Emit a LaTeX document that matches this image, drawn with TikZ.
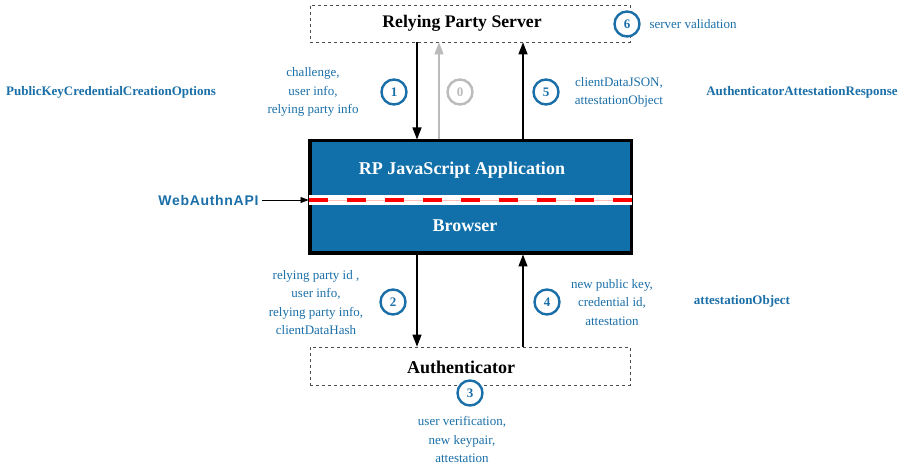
\documentclass[tikz,border=0pt]{standalone}
\usepackage{fontspec}
\setmainfont{Liberation Serif}
\newfontfamily\apifont[LetterSpace=5]{Liberation Sans}
\usetikzlibrary{arrows.meta}

\definecolor{labelblue}{HTML}{1A6FA8}
\definecolor{appblue}{HTML}{1170AA}
\definecolor{zerogray}{HTML}{BBBBBB}

\tikzset{
  dashbox/.style={draw=black!70, dashed, line width=0.7pt, inner sep=0pt},
  title/.style={font=\fontsize{17.7}{20}\selectfont\bfseries},
  apptitle/.style={font=\fontsize{18}{20}\selectfont\bfseries, text=white},
  info/.style={align=center, text=labelblue, font=\fontsize{13}{18.5}\selectfont},
  typename/.style={text=labelblue, font=\fontsize{13}{16}\selectfont\bfseries},
  stepnum/.style={circle, draw=labelblue, fill=white, line width=2.4pt,
    minimum size=25pt, inner sep=0pt, text=labelblue,
    font=\fontsize{13}{15}\selectfont\bfseries},
  flow/.style={line width=1.3pt, -{Triangle[length=12pt, width=9pt]}},
}

\begin{document}
\begin{tikzpicture}[x=1pt, y=-1pt]
\useasboundingbox (0,0) rectangle (903,465);

% boxes
\node[dashbox, minimum width=320pt, minimum height=37pt] (rps) at (470,23.5) {};
\node[title] (rpstitle) at (462,23) {Relying Party Server};
\node[dashbox, minimum width=320pt, minimum height=38pt] (auth) at (470,366) {};
\node[title, font=\fontsize{18}{20}\selectfont\bfseries] (authtitle) at (461,367) {Authenticator};

\node[draw=black, fill=appblue, line width=3pt, minimum width=321pt,
  minimum height=112pt, inner sep=0pt] (app) at (470.5,197) {};
\node[apptitle] (rpapp) at (462,170) {RP JavaScript Application};
\node[apptitle] (browser) at (465,226) {Browser};

% WebAuthn API stripe
\coordinate (stripetop) at (0,195);
\coordinate (stripebot) at (0,205);
\coordinate (stripemid) at (0,200);
\fill[white] (app.west |- stripetop) rectangle (app.east |- stripebot);
\draw[red!25, line width=0.5pt] (app.west |- stripemid) -- (app.east |- stripemid);
\draw[red, line width=4.5pt, dash pattern=on 19pt off 19pt]
  (app.west |- stripemid) -- (app.east |- stripemid);
\draw[line width=1.5pt, black] (app.north west) rectangle (app.south east);

\node[text=labelblue, font=\apifont\fontsize{14}{16}\selectfont\bfseries,
  anchor=east] (api) at (262,200) {WebAuthnAPI};
\draw[line width=0.8pt, -{Triangle[length=8pt, width=6pt]}]
  (api.east) -- (app.west |- api.east);

% arrows
\coordinate (xdown) at (417,0);
\coordinate (xzero) at (439,0);
\coordinate (xup) at (523,0);
\draw[flow] (rps.south -| xdown) -- (app.north -| xdown);
\draw[flow, zerogray] (app.north -| xzero) -- (rps.south -| xzero);
\draw[flow] (app.north -| xup) -- (rps.south -| xup);
\draw[flow] (app.south -| xdown) -- (auth.north -| xdown);
\draw[flow] (auth.north -| xup) -- (app.south -| xup);

% steps
\node[stepnum, draw=zerogray, text=zerogray] (s0) at (460,92) {0};
\node[stepnum] (s1) at (394,92) {1};
\node[stepnum] (s5) at (546,92) {5};
\node[stepnum] (s6) at (627,24) {6};
\node[stepnum] (s2) at (393,302) {2};
\node[stepnum] (s4) at (547,302) {4};
\node[stepnum] (s3) at (470,393) {3};

% labels
\node[info] (opts) at (313,92) {challenge,\\user info,\\relying party info};
\node[info] (resp) at (619,92.5) {clientDataJSON,\\attestationObject};
\node[info, anchor=west] (valid) at (646,24) {server validation};
\node[info] (params) at (316,302.5) {relying party id ,\\user info,\\relying party info,\\clientDataHash};
\node[info] (cred) at (612,302.5) {new public key,\\credential id,\\attestation};
\node[info] (keygen) at (462,439.5) {user verification,\\new keypair,\\attestation};

\node[typename] (pkcco) at (111,92) {PublicKeyCredentialCreationOptions};
\node[typename] (aar) at (802,92) {AuthenticatorAttestationResponse};
\node[typename] (attobj) at (742,301) {attestationObject};
\end{tikzpicture}
\end{document}
